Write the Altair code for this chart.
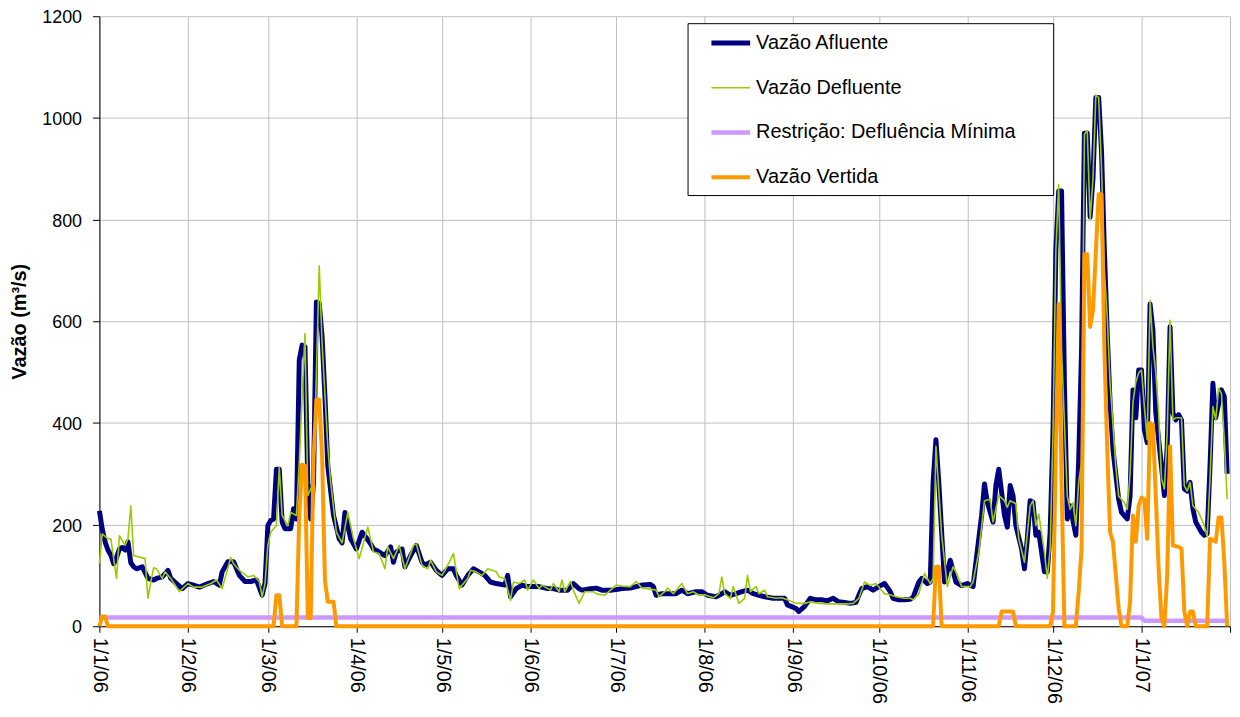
import altair as alt
import pandas as pd

FONT = "Liberation Sans"

series_names = ["Vazão Afluente", "Vazão Defluente", "Restrição: Defluência Mínima", "Vazão Vertida"]
series_colors = ["#000080", "#99CC00", "#CC99FF", "#FF9900"]
series_widths = [5, 1.6, 4.5, 4]

# x ticks: day offsets from 1/1/06 and their labels
tick_days = [0, 31, 59, 90, 120, 151, 181, 212, 243, 273, 304, 334, 365, 396]
tick_labels = ["1/1/06", "1/2/06", "1/3/06", "1/4/06", "1/5/06", "1/6/06", "1/7/06",
               "1/8/06", "1/9/06", "1/10/06", "1/11/06", "1/12/06", "1/1/07", ""]
y_ticks = [0, 200, 400, 600, 800, 1000, 1200]

afl_days = [0, 1, 2, 3, 4, 5, 6, 7, 8, 9, 10, 11, 12, 13, 15, 17, 19, 20, 22, 24, 25, 27, 29, 31, 33, 35,
            38, 40, 42, 43, 45, 47, 49, 51, 53, 55, 57, 58, 59, 60, 61, 62, 63, 64, 65, 67, 68, 69, 70, 71,
            72, 73, 74, 75, 76, 77, 78, 79, 80, 82, 84, 85, 86, 88, 90, 92, 94, 95, 96, 98, 100, 102, 103,
            104, 106, 107, 109, 111, 113, 114, 116, 118, 120, 122, 124, 125, 127, 129, 131, 133, 135, 137,
            139, 142, 143, 144, 146, 148, 150, 152, 154, 157, 159, 161, 164, 166, 168, 169, 172, 174, 176,
            179, 181, 183, 186, 188, 190, 193, 194, 195, 197, 200, 202, 204, 206, 209, 211, 213, 216, 218,
            219, 221, 223, 225, 227, 229, 231, 233, 236, 238, 240, 241, 244, 245, 247, 249, 251, 253, 255,
            257, 259, 261, 263, 265, 266, 267, 269, 271, 273, 275, 277, 278, 280, 282, 284, 285, 287, 288,
            290, 291, 292, 293, 294, 295, 296, 298, 300, 302, 304, 306, 307, 309, 310, 311, 313, 314, 315,
            317, 318, 319, 320, 321, 323, 324, 325, 326, 327, 328, 329, 331, 332, 333, 334, 335, 336, 337,
            338, 339, 340, 342, 343, 344, 345, 346, 347, 348, 349, 350, 351, 352, 353, 354, 355, 357, 358,
            360, 361, 362, 363, 364, 365, 366, 367, 368, 369, 370, 372, 373, 374, 375, 376, 377, 378, 379,
            380, 381, 382, 383, 384, 386, 387, 388, 389, 390, 391, 393, 394, 395]
afl_vals = [227, 191, 166, 150, 140, 123, 135, 152, 155, 150, 166, 125, 117, 113, 117, 94, 91, 94, 97, 110, 94,
            84, 74, 84, 81, 77, 84, 88, 81, 107, 127, 127, 100, 88, 88, 91, 61, 84, 198, 208, 211, 309, 309,
            205, 192, 192, 231, 211, 524, 553, 550, 283, 211, 283, 638, 635, 569, 452, 315, 218, 172, 164,
            224, 172, 152, 185, 170, 162, 152, 146, 139, 156, 126, 146, 152, 117, 139, 159, 126, 120, 126,
            110, 100, 113, 113, 100, 81, 100, 113, 107, 100, 87, 84, 81, 100, 58, 74, 81, 78, 78, 78, 74,
            74, 71, 71, 84, 74, 71, 74, 75, 71, 71, 72, 74, 75, 78, 81, 82, 78, 61, 64, 64, 64, 71, 64, 68,
            68, 61, 58, 64, 68, 61, 64, 68, 71, 64, 61, 58, 55, 55, 55, 42, 35, 29, 39, 55, 52, 52, 50, 55,
            48, 47, 45, 47, 61, 74, 78, 71, 78, 84, 68, 55, 52, 52, 53, 57, 87, 94, 84, 87, 283, 367, 283,
            185, 87, 130, 87, 80, 84, 78, 126, 218, 280, 244, 205, 277, 309, 218, 195, 277, 257, 198, 152,
            113, 172, 247, 244, 179, 185, 107, 107, 185, 380, 739, 856, 856, 478, 211, 237, 179, 328, 543,
            970, 970, 805, 880, 1040, 1040, 934, 739, 576, 439, 348, 250, 224, 211, 256, 465, 410, 504, 504,
            387, 361, 634, 582, 420, 315, 257, 354, 589, 420, 406, 416, 406, 270, 266, 283, 231, 205, 185,
            179, 182, 315, 478, 410, 465, 452, 300]

def_days = [0, 1, 3, 4, 6, 7, 9, 10, 11, 12, 16, 17, 18, 19, 20, 22, 23, 25, 28, 31, 33, 36, 39, 41, 43, 46,
            47, 49, 52, 54, 56, 57, 58, 59, 60, 62, 63, 64, 66, 67, 69, 70, 72, 73, 75, 77, 78, 80, 81, 83,
            85, 87, 89, 91, 94, 96, 98, 100, 101, 103, 105, 107, 110, 111, 113, 115, 116, 118, 120, 122, 124,
            126, 129, 130, 132, 134, 136, 139, 140, 142, 144, 145, 147, 149, 150, 152, 154, 155, 158, 159,
            161, 162, 163, 165, 166, 168, 170, 173, 174, 177, 179, 181, 183, 186, 188, 190, 192, 195, 196,
            198, 199, 201, 204, 206, 208, 210, 212, 215, 217, 218, 219, 221, 222, 224, 226, 227, 228, 230,
            231, 233, 234, 237, 239, 241, 244, 247, 249, 252, 255, 259, 262, 264, 266, 268, 270, 272, 275,
            277, 279, 282, 284, 285, 287, 289, 290, 291, 292, 293, 295, 297, 299, 300, 302, 305, 306, 308,
            310, 312, 313, 315, 317, 318, 319, 321, 322, 324, 326, 327, 328, 329, 331, 332, 333, 334, 335,
            336, 337, 339, 340, 341, 342, 343, 344, 345, 346, 347, 348, 349, 350, 351, 352, 353, 354, 356,
            357, 359, 360, 361, 362, 363, 364, 365, 366, 367, 368, 369, 370, 371, 372, 373, 374, 375, 376,
            377, 379, 380, 381, 382, 383, 385, 387, 388, 389, 390, 391, 392, 393, 394, 395]
def_vals = [123, 182, 172, 172, 94, 178, 159, 172, 237, 139, 133, 55, 87, 115, 113, 94, 107, 94, 68, 84, 77,
            77, 84, 91, 74, 135, 123, 110, 97, 100, 88, 58, 84, 159, 185, 198, 312, 218, 198, 224, 218, 322,
            576, 257, 283, 709, 557, 354, 283, 185, 164, 224, 172, 133, 195, 146, 143, 113, 156, 133, 159,
            113, 159, 162, 120, 113, 130, 107, 100, 120, 143, 74, 94, 110, 107, 100, 113, 107, 97, 94, 51,
            87, 84, 91, 71, 91, 74, 81, 71, 84, 68, 91, 68, 88, 71, 45, 68, 68, 64, 61, 71, 81, 79, 78, 88,
            75, 74, 71, 58, 68, 75, 64, 84, 64, 68, 61, 62, 56, 64, 97, 64, 55, 78, 45, 55, 100, 68, 78, 64,
            71, 58, 55, 56, 52, 45, 45, 48, 45, 44, 44, 44, 45, 55, 87, 80, 84, 64, 62, 58, 55, 55, 52, 64,
            104, 94, 84, 94, 354, 179, 78, 117, 107, 78, 78, 87, 146, 247, 250, 205, 257, 247, 234, 247,
            241, 172, 126, 237, 247, 198, 221, 146, 94, 152, 380, 739, 869, 543, 256, 230, 243, 198, 283,
            322, 968, 975, 800, 880, 1045, 1040, 900, 700, 608, 478, 315, 256, 243, 230, 300, 440, 480, 498,
            504, 432, 367, 641, 550, 500, 420, 290, 270, 380, 602, 406, 410, 410, 276, 266, 283, 237, 224,
            198, 176, 290, 432, 406, 468, 458, 367, 250]

res_days = [0, 365, 366, 395]
res_vals = [17, 17, 11, 11]

ver_days = [0, 1, 2, 3, 61, 62, 63, 64, 69, 70, 71, 72, 73, 74, 75, 76, 77, 78, 79, 80, 82, 83, 292, 293, 294,
            295, 315, 316, 320, 321, 333, 334, 335, 336, 337, 338, 342, 343, 344, 345, 346, 347, 348, 350,
            351, 352, 353, 354, 355, 357, 358, 360, 361, 362, 363, 364, 365, 366, 367, 368, 369, 370, 371,
            372, 373, 374, 375, 376, 378, 379, 380, 381, 382, 383, 384, 388, 389, 390, 391, 392, 393, 394,
            395]
ver_vals = [0, 19, 19, 0, 0, 61, 61, 0, 0, 218, 318, 316, 16, 16, 330, 446, 446, 335, 90, 48, 48, 0, 0, 117,
            117, 0, 0, 29, 29, 0, 0, 29, 348, 634, 283, 0, 0, 68, 152, 732, 732, 589, 621, 850, 850, 543,
            348, 185, 166, 35, 0, 0, 48, 218, 166, 237, 253, 250, 172, 400, 396, 257, 113, 16, 0, 100, 354,
            159, 156, 153, 29, 0, 29, 29, 0, 0, 172, 170, 166, 214, 214, 126, 0]

rows = []
for name, days, vals in [(series_names[0], afl_days, afl_vals),
                         (series_names[1], def_days, def_vals),
                         (series_names[2], res_days, res_vals),
                         (series_names[3], ver_days, ver_vals)]:
    for d, v in zip(days, vals):
        rows.append({"serie": name, "dia": d, "vazao": v})
df = pd.DataFrame(rows)

label_expr = ("[" + ",".join("'" + l + "'" for l in tick_labels) + "][indexof(["
              + ",".join(str(t) for t in tick_days) + "], datum.value)]")

width_expr = "(" + " : ".join(
    "datum.value == '" + n + "' ? " + str(w) for n, w in zip(series_names[:-1], series_widths[:-1])
) + " : " + str(series_widths[-1]) + ")"

legend = alt.Legend(
    orient="none", legendX=592, legendY=7,
    title=" ", titleOrient="right", titlePadding=30, titleFontSize=8,
    symbolType="M-2,0H2", symbolSize=380, symbolStrokeWidth=alt.ExprRef(expr=width_expr),
    labelFontSize=20, labelFont=FONT, labelColor="black", rowPadding=23, padding=8,
    strokeColor="black", fillColor="white", symbolOffset=23.5, labelOffset=13.5, labelLimit=500,
)

x_enc = alt.X(
    "dia:Q",
    scale=alt.Scale(domain=[0, 396], nice=False, zero=False),
    axis=alt.Axis(
        values=tick_days, labelExpr=label_expr, labelAngle=90, labelAlign="left",
        labelBaseline="middle", labelPadding=5, labelFontSize=20, labelFont=FONT,
        labelColor="black", tickSize=6, tickColor="black", domainColor="black",
        gridColor="#C0C0C0", labelOverlap=False, labelFlush=False, title=None,
    ),
)
y_enc = alt.Y(
    "vazao:Q",
    scale=alt.Scale(domain=[0, 1200], nice=False),
    axis=alt.Axis(
        values=y_ticks, format="d", title="Vazão (m³/s)", titleFontSize=20, titleFontWeight="bold",
        titleFont=FONT, titleColor="black", titleAngle=270, titleX=-80, titleY=307,
        titleAlign="center", titleBaseline="middle", labelFontSize=18, labelFont=FONT,
        labelColor="black", labelPadding=11, labelOffset=1.5, tickSize=7, tickColor="black",
        domainColor="black", gridColor="#C0C0C0",
    ),
)
color_enc = alt.Color("serie:N", scale=alt.Scale(domain=series_names, range=series_colors), legend=legend)

layers = []
for name, w in zip(series_names, series_widths):
    layers.append(
        alt.Chart(df)
        .transform_filter(alt.datum.serie == name)
        .mark_line(strokeJoin="round")
        .encode(x=x_enc, y=y_enc, color=color_enc, strokeWidth=alt.value(w))
    )

chart = (
    alt.layer(*layers)
    .properties(
        width=1138, height=614,
        autosize=alt.AutoSizeParams(type="none"),
        padding={"left": 92, "top": 6, "right": 2, "bottom": 80},
        background="white",
    )
    .configure_view(strokeWidth=0)
)

chart.save("out.html", embed_options={"renderer": "svg", "actions": False})
